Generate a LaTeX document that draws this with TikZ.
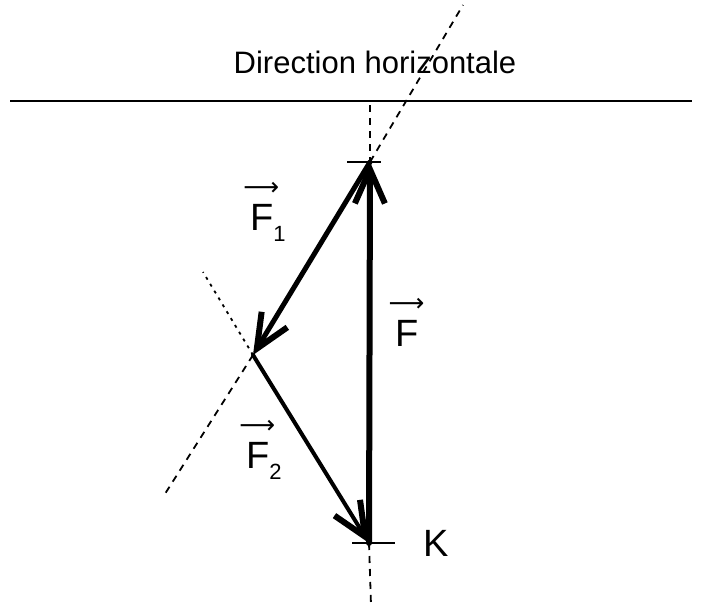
\documentclass[tikz,border=0pt]{standalone}
\usepackage{fontspec}
\setmainfont{Liberation Sans}
\newfontfamily\arrfont{DejaVu Sans}
\usetikzlibrary{arrows.meta}
\newcommand\vlab[2]{\shortstack[l]{\hspace*{-7pt}{\arrfont\fontsize{25}{25}\selectfont ⟶}\\[6pt]#1\raisebox{-0.3em}{\fontsize{22}{22}\selectfont #2}}}
\begin{document}
\begin{tikzpicture}[x=1pt,y=-1pt,
  force/.style={line width=#1, line cap=round, -{Straight Barb[length=34pt,width=30pt,line width=6pt]}},
  ext/.style={line width=1.8pt, dash pattern=on 7pt off 6pt},
  dotext/.style={line width=1.8pt, dash pattern=on 3pt off 5pt},
  lab/.style={font=\fontsize{38}{38}\selectfont, inner sep=0pt},
  ticks/.style={line width=1.5pt}]
\useasboundingbox (0,0) rectangle (703,605);
% main points
\coordinate (T) at (370,162);
\coordinate (M) at (253,355);
\coordinate (K) at (369,543);
% ends of construction lines
\coordinate (H1) at (10,101);
\coordinate (H2) at (692,101);
\coordinate (VT) at (370,105);
\coordinate (VB) at (371,605);
\coordinate (E1) at (463,5);
\coordinate (E2) at (163,497);
\coordinate (E3) at (203,272);
\coordinate (TL) at (347,162);
\coordinate (TR) at (381,162);
\coordinate (KL) at (352,543);
\coordinate (KR) at (395,543);
% horizontal direction
\draw[line width=1.5pt] (H1) -- (H2);
\node[font=\fontsize{31}{31}\selectfont, inner sep=0pt] (title) at (375,62) {Direction horizontale};
% construction lines
\draw[ext] (VT) -- (T);
\draw[ext] (K) -- (VB);
\draw[ext] (T) -- (E1);
\draw[ext] (M) -- (E2);
\draw[dotext] (M) -- (E3);
% ticks
\draw[ticks] (TL) -- (TR);
\draw[ticks] (KL) -- (KR);
% forces
\draw[force=6pt] (K) -- (T);
\draw[force=5pt] (T) -- (M);
\draw[force=4pt] (M) -- (K);
% labels
\node[lab] (lF1) at (268,212) {\vlab{F}{1}};
\node[lab] (lF) at (410,328) {\vlab{F}{}};
\node[lab] (lF2) at (264,450) {\vlab{F}{2}};
\node[lab] (lK) at (436,543) {K};
\end{tikzpicture}
\end{document}
